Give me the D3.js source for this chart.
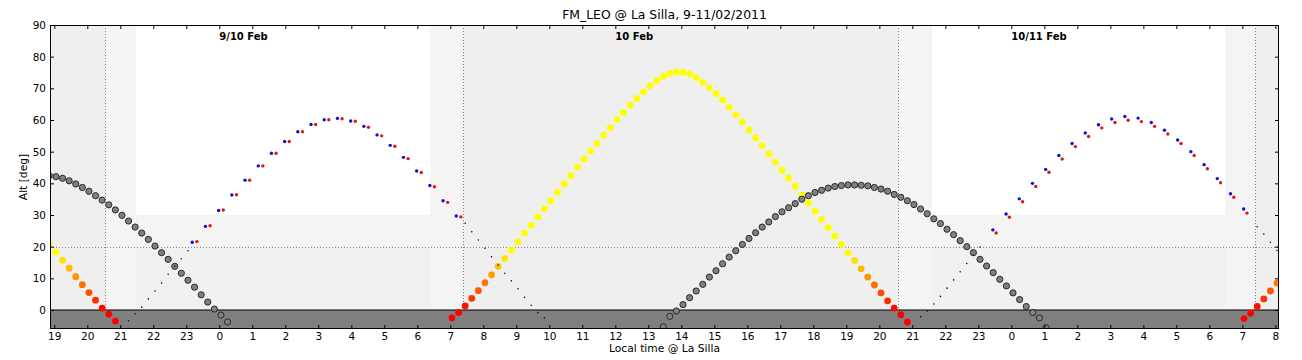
<!DOCTYPE html>
<html><head><meta charset="utf-8">
<script src="https://cdn.jsdelivr.net/npm/d3@7"></script>
<style>
body{margin:0;background:#fff}
svg{display:block}
text{font-family:"DejaVu Sans",sans-serif}
</style>
</head><body>
<svg id="chart" width="1302" height="360"></svg>
<script>
// ---------- DATA (hours counted from 19:00 local, 9 Feb 2011) ----------
const hourLabels = ["19","20","21","22","23","0","1","2","3","4","5","6","7","8","9","10","11","12","13","14","15","16","17","18","19","20","21","22","23","0","1","2","3","4","5","6","7","8"];
const altTicks = [0,10,20,30,40,50,60,70,80,90];
const dayLabels = ["9/10 Feb","10 Feb","10/11 Feb"];
const dayLabelTimes = [5, 17, 29];

const sampleStep = 0.2;   // hours between samples
const targetStep = 0.4;   // hours between target markers

// Sun
const sunEveStart = -0.15;
const sunEveAlt = [20.9,18.2,15.7,13.2,10.5,8.0,5.5,3.1,0.6,-1.3,-3.5];
const sunDayStart = 12.05;
const sunDayAlt = [-2.5,-0.8,1.3,3.7,6.1,8.6,11.1,13.8,16.3,18.9,21.5,24.2,26.7,29.4,32.0,34.5,37.2,39.8,
  42.4,45.1,47.6,50.2,52.6,55.3,57.6,60.2,62.4,64.7,66.8,
  68.9,70.8,72.4,73.8,74.7,75.1,75.1,
  74.5,73.4,71.9,70.2,68.3,66.3,64.0,61.7,59.4,56.9,54.4,51.9,49.3,46.8,44.2,41.7,39.1,
  36.3,33.8,31.2,28.6,26.0,23.4,20.7,18.1,15.6,13.0,10.4,7.9,5.4,2.9,0.6,-1.5,-3.8];
const sunMornStart = 36.05;
const sunMornAlt = [-2.7,-1.0,1.1,3.5,6.0,8.5,11.0];

// Moon
const moonEveStart = -0.15;
const moonEveAlt = [42.4,42.1,41.6,40.8,39.8,38.7,37.5,36.1,34.7,33.2,31.6,29.9,28.1,26.2,24.3,22.3,20.2,18.1,16.0,13.8,11.6,9.4,7.2,4.8,2.5,0.3,-1.6,-3.8];
const moonDayStart = 18.45;
const moonDayAlt = [-5.3,-2.0,-0.3,1.7,3.9,6.0,8.1,10.4,12.4,14.6,16.7,18.7,20.7,22.6,24.4,26.2,27.8,29.5,31.0,32.3,
  33.6,35.0,36.1,37.1,37.8,38.5,39.0,39.3,39.5,39.5,39.4,39.2,38.7,38.2,37.5,36.5,35.6,34.5,33.3,31.9,
  30.4,28.8,27.3,25.5,23.8,21.9,20.0,18.1,16.0,13.9,11.8,9.7,7.6,5.4,3.3,1.1,-0.8,-2.5,-5.6];

// Target: not observable (small black dots)
const tinyAStart = 2.25,  tinyAAlt = [-3.4,-1.2,0.9,3.5,6.0,8.5,11.3,13.9,16.2,18.7];
const tinyBStart = 12.45, tinyBAlt = [27.4,24.7,22.1,19.5,16.8,14.2,11.6,9.2,6.7,4.0,1.5,-0.9,-2.5];
const tinyCStart = 26.25, tinyCAlt = [-2.1,-0.3,1.9,4.3,6.9,9.5,12.1,14.7,17.3,19.9];
const tinyDStart = 36.45, tinyDAlt = [26.3,24.0,21.4,18.8];

// Target: observable (blue / red markers)
const blue1Start = 4.18;
const blue1Alt = [21.4,26.4,31.4,36.3,41.0,45.5,49.5,53.2,56.3,58.6,60.1,60.5,59.7,58.0,55.3,52.0,48.2,43.9,39.3,34.5,29.7];
const red1Start = 4.32;
const red1Alt = [21.6,26.6,31.6,36.4,41.0,45.5,49.5,53.2,56.3,58.6,60.1,60.4,59.6,57.7,55.0,51.7,47.8,43.4,38.9,34.0,29.4];
const blue2Start = 28.44;
const blue2Alt = [25.3,30.3,35.1,40.0,44.4,48.8,52.6,55.9,58.5,60.3,61.1,60.6,59.2,56.8,53.7,50.0,45.9,41.5,36.7,31.9];
const red2Start = 28.54;
const red2Alt = [24.3,29.3,34.2,39.0,43.5,47.7,51.6,54.8,57.5,59.2,59.9,59.5,58.0,55.6,52.6,48.8,44.6,40.2,35.6,30.6];

// Sunset / sunrise and night limits (hours)
const sunsetTimes  = [1.545, 25.57];
const sunriseTimes = [12.37, 36.39];
const nightStarts  = [2.48, 26.6];
const nightEnds    = [11.39, 35.48];

// ---------- CHART ----------
const W = 1302, H = 360;
const m = {l:50, r:23, t:25, b:31};
const svg = d3.select("#chart");
const x = d3.scaleLinear().domain([-0.13, 37.11]).range([m.l, W - m.r]);
const y = d3.scaleLinear().domain([-6, 90]).range([H - m.b, m.t]);
const x0 = x.range()[0], x1 = x.range()[1], yTop = y.range()[1], yBot = y.range()[0];

svg.append("defs").append("clipPath").attr("id","clip")
  .append("rect").attr("x",x0).attr("y",yTop).attr("width",x1-x0).attr("height",yBot-yTop);

const bg = svg.append("g").attr("clip-path","url(#clip)");
// day background
bg.append("rect").attr("x",x0).attr("y",yTop).attr("width",x1-x0).attr("height",yBot-yTop).attr("fill","#efefef");
// twilight strips
const twil = [[x.domain()[0]-1, 0], [0,0]];
sunsetTimes.forEach((s,i)=>{
  bg.append("rect").attr("x",x(s)).attr("y",yTop).attr("width",x(nightStarts[i])-x(s)).attr("height",yBot-yTop).attr("fill","#f4f4f4");
});
sunriseTimes.forEach((s,i)=>{
  bg.append("rect").attr("x",x(nightEnds[i])).attr("y",yTop).attr("width",x(s)-x(nightEnds[i])).attr("height",yBot-yTop).attr("fill","#f4f4f4");
});
// night
nightStarts.forEach((s,i)=>{
  const e = nightEnds[i];
  bg.append("rect").attr("x",x(s)).attr("y",yTop).attr("width",x(e)-x(s)).attr("height",y(20)-yTop).attr("fill","#f4f4f4");
  bg.append("rect").attr("x",x(s)).attr("y",y(20)).attr("width",x(e)-x(s)).attr("height",yBot-y(20)).attr("fill","#f1f1f1");
  bg.append("rect").attr("x",x(s)).attr("y",yTop).attr("width",x(e)-x(s)).attr("height",y(30)-yTop).attr("fill","#ffffff");
});
// below horizon
bg.append("rect").attr("x",x0).attr("y",y(0)).attr("width",x1-x0).attr("height",yBot-y(0)).attr("fill","#808080");
bg.append("line").attr("x1",x0).attr("x2",x1).attr("y1",y(0)).attr("y2",y(0)).attr("stroke","#000").attr("stroke-width",1.2);
// dotted lines
bg.append("line").attr("x1",x0).attr("x2",x1).attr("y1",Math.round(y(20))+0.5).attr("y2",Math.round(y(20))+0.5)
  .attr("stroke","#888").attr("stroke-dasharray","1,2");
sunsetTimes.concat(sunriseTimes).forEach(t=>{
  bg.append("line").attr("x1",Math.round(x(t))+0.5).attr("x2",Math.round(x(t))+0.5).attr("y1",yTop).attr("y2",y(0))
    .attr("stroke","#888").attr("stroke-dasharray","1,2");
});

// day labels
svg.append("g").selectAll("text").data(dayLabels).join("text")
  .attr("x",(d,i)=>x(dayLabelTimes[i])).attr("y",40)
  .attr("font-size","10px").attr("font-weight","bold").attr("fill","#000").text(d=>d);

// series helper
const series = (start, step, alts) => alts.map((a,i)=>({t:start + i*step, a}));
const pts = svg.append("g").attr("clip-path","url(#clip)");

const sunColor = a => d3.interpolateRgb("#ff0000","#ffff00")(Math.max(0, Math.min(1, a/18)));
const sunData = series(sunEveStart, sampleStep, sunEveAlt)
  .concat(series(sunDayStart, sampleStep, sunDayAlt))
  .concat(series(sunMornStart, sampleStep, sunMornAlt));
pts.append("g").selectAll("circle").data(sunData).join("circle")
  .attr("cx",d=>x(d.t)).attr("cy",d=>y(d.a)).attr("r",3.4).attr("fill",d=>sunColor(d.a));

const moonData = series(moonEveStart, sampleStep, moonEveAlt).concat(series(moonDayStart, sampleStep, moonDayAlt));
pts.append("g").selectAll("circle").data(moonData).join("circle")
  .attr("cx",d=>x(d.t)).attr("cy",d=>y(d.a)).attr("r",3.1)
  .attr("fill","#808080").attr("stroke","#2a2a2a").attr("stroke-width",1);

const tinyData = series(tinyAStart, sampleStep, tinyAAlt).concat(series(tinyBStart, sampleStep, tinyBAlt))
  .concat(series(tinyCStart, sampleStep, tinyCAlt)).concat(series(tinyDStart, sampleStep, tinyDAlt));
pts.append("g").selectAll("circle").data(tinyData).join("circle")
  .attr("cx",d=>x(d.t)).attr("cy",d=>y(d.a)).attr("r",0.8).attr("fill","#111");

const blueData = series(blue1Start, targetStep, blue1Alt).concat(series(blue2Start, targetStep, blue2Alt));
const redData = series(red1Start, targetStep, red1Alt).concat(series(red2Start, targetStep, red2Alt));
pts.append("g").selectAll("circle").data(blueData).join("circle")
  .attr("cx",d=>x(d.t)).attr("cy",d=>y(d.a)).attr("r",1.7).attr("fill","#1010d0");
pts.append("g").selectAll("circle").data(redData).join("circle")
  .attr("cx",d=>x(d.t)).attr("cy",d=>y(d.a)).attr("r",1.7).attr("fill","#e01818");

// axes
const hourTicks = d3.range(hourLabels.length);
const styleAxis = g => { g.select(".domain").remove(); g.selectAll(".tick line").attr("stroke","#000"); g.selectAll("text").attr("font-size","10.5px").attr("fill","#000").style("font-family","'DejaVu Sans',sans-serif"); };
svg.append("g").attr("transform",`translate(0,${yBot})`)
  .call(d3.axisBottom(x).tickValues(hourTicks).tickFormat((d,i)=>hourLabels[i]).tickSize(-4).tickPadding(4)).call(styleAxis);
svg.append("g").attr("transform",`translate(0,${yTop})`)
  .call(d3.axisTop(x).tickValues(hourTicks).tickFormat("").tickSize(-4)).call(styleAxis);
svg.append("g").attr("transform",`translate(${x0},0)`)
  .call(d3.axisLeft(y).tickValues(altTicks).tickSize(-4).tickPadding(4)).call(styleAxis);
svg.append("g").attr("transform",`translate(${x1},0)`)
  .call(d3.axisRight(y).tickValues(altTicks).tickFormat("").tickSize(-4)).call(styleAxis);

// frame
svg.append("rect").attr("x",x0+0.5).attr("y",yTop+0.5).attr("width",x1-x0-1).attr("height",yBot-yTop-1)
  .attr("fill","none").attr("stroke","#000").attr("stroke-width",1);

// titles
svg.append("text").attr("x",(x0+x1)/2).attr("y",19).attr("text-anchor","middle").attr("font-size","12.4px").attr("fill","#000")
  .text("FM_LEO @ La Silla, 9-11/02/2011");
svg.append("text").attr("x",(x0+x1)/2).attr("y",352).attr("text-anchor","middle").attr("font-size","10.7px").attr("fill","#000")
  .text("Local time @ La Silla");
svg.append("text").attr("transform",`translate(27,${(yTop+yBot)/2}) rotate(-90)`).attr("text-anchor","middle").attr("font-size","10.7px").attr("fill","#000")
  .text("Alt [deg]");
</script>
</body></html>
